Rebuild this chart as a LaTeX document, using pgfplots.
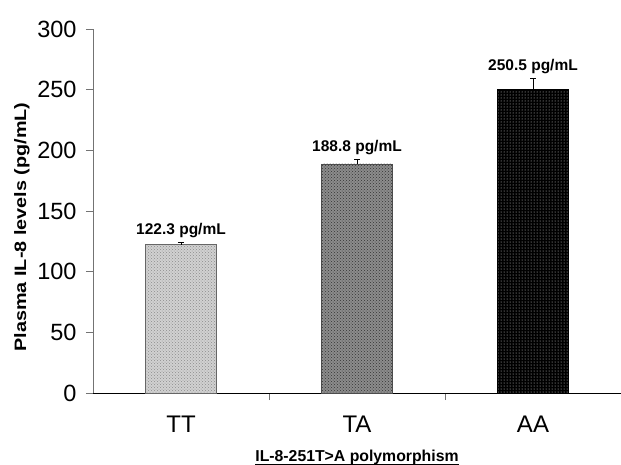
\documentclass[border=0pt]{standalone}
\usepackage{pgfplots}
\pgfplotsset{compat=1.18}
\usepackage{fontspec}
\setmainfont{Liberation Sans}
\usetikzlibrary{patterns}
\begin{document}
\begin{tikzpicture}
\useasboundingbox (-93pt,-71pt) rectangle (528pt,393pt);
\begin{axis}[
  scale only axis, width=528pt, height=364pt,
  at={(0,0)}, anchor=south west,
  xmin=-0.5, xmax=2.5, ymin=0, ymax=300,
  axis x line*=bottom, axis y line*=left,
  x axis line style={black, line width=0.8pt, -},
  y axis line style={black!55, line width=0.8pt, -},
  ytick={0,50,...,300},
  ytick style={black!55, line width=0.8pt},
  major tick length=7pt,
  tick align=outside,
  yticklabel style={font=\fontsize{23.5}{28}\selectfont, xshift=-6pt},
  /pgf/number format/assume math mode=true,
  xtick={0.5,1.5,2.5},
  xticklabels={},
  xtick style={black!55, line width=0.6pt},
  extra x ticks={0,1,2},
  extra x tick labels={TT,TA,AA},
  extra x tick style={major tick length=0pt, xticklabel style={font=\fontsize{24}{28}\selectfont, yshift=-19pt}},
  clip=false,
]
\addplot[ybar, bar width=71pt, bar shift=0pt, draw=black!60, line width=0.5pt,
  fill=black!18, postaction={pattern=crosshatch dots, pattern color=black!45},
  error bars/.cd, y dir=plus, y explicit,
  error bar style={black, line width=0.6pt},
  error mark options={black, rotate=90, mark size=3pt, line width=0.6pt}]
  coordinates {(0,122.3) +- (0,2)};
\addplot[ybar, bar width=71pt, bar shift=0pt, draw=black!70, line width=0.5pt,
  fill=black!45, postaction={pattern=crosshatch dots, pattern color=black!80},
  error bars/.cd, y dir=plus, y explicit,
  error bar style={black, line width=0.6pt},
  error mark options={black, rotate=90, mark size=3pt, line width=0.6pt}]
  coordinates {(1,188.8) +- (0,4)};
\addplot[ybar, bar width=71pt, bar shift=0pt, draw=black, line width=0.5pt,
  fill=black, postaction={pattern=dots, pattern color=white!85!black},
  error bars/.cd, y dir=plus, y explicit,
  error bar style={black, line width=0.6pt},
  error mark options={black, rotate=90, mark size=3pt, line width=0.6pt}]
  coordinates {(2,250.5) +- (0,9)};
\node[anchor=base, yshift=7.5pt, font=\bfseries\fontsize{15.5}{18}\selectfont] at (axis cs:0,124.3) {122.3 pg/mL};
\node[anchor=base, yshift=7.5pt, font=\bfseries\fontsize{15.5}{18}\selectfont] at (axis cs:1,192.8) {188.8 pg/mL};
\node[anchor=base, yshift=7.5pt, font=\bfseries\fontsize{15.5}{18}\selectfont] at (axis cs:2,259.5) {250.5 pg/mL};
\node[anchor=base, inner sep=0pt, font=\bfseries\fontsize{15.8}{18}\selectfont] (xl) at ([yshift=-68.5pt]axis description cs:0.5,0) {IL-8-251T>A polymorphism};
\draw[line width=1.1pt] ([yshift=-2.8pt]xl.base west) -- ([yshift=-2.8pt]xl.base east);
\node[rotate=90, anchor=center, inner sep=0pt, font=\bfseries\fontsize{16.5}{20}\selectfont] at ([xshift=-71pt]axis description cs:0,0.456) {\scalebox{1.2}[1]{Plasma IL-8 levels (pg/mL)}};
\end{axis}
\end{tikzpicture}
\end{document}
